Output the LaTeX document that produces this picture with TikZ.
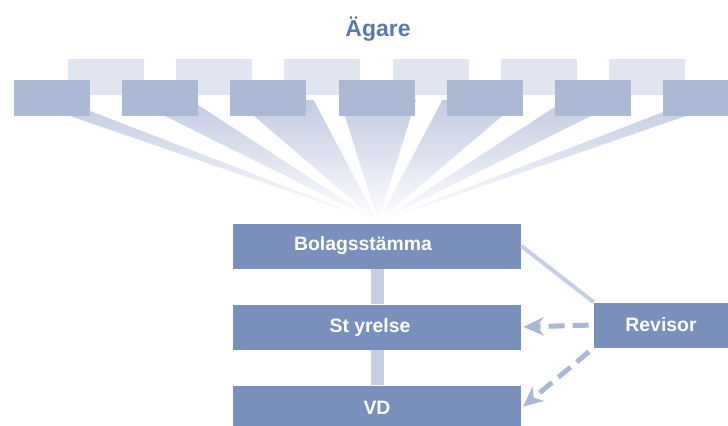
\documentclass[tikz,border=0pt]{standalone}
\usepackage{fontspec}
\setmainfont{Liberation Sans}
\usetikzlibrary{arrows.meta, positioning, calc}

\definecolor{boxblue}{HTML}{7890BB}
\definecolor{ownerblue}{HTML}{ABB9D5}
\definecolor{ownerback}{HTML}{E0E5F0}
\definecolor{linkblue}{HTML}{C5CEE3}
\definecolor{titleblue}{HTML}{5A78B0}
\definecolor{rayblue}{HTML}{C3CBE1}
\definecolor{auditblue}{HTML}{AAB8D6}

\tikzset{
  orgbox/.style={fill=boxblue, text=white, font=\bfseries\fontsize{9.7}{12}\selectfont,
    inner sep=0pt, minimum height=22.5pt},
  owner/.style={fill=ownerblue, minimum width=38pt, minimum height=18pt, inner sep=0pt},
  ownerbg/.style={fill=ownerback, minimum width=38pt, minimum height=18pt, inner sep=0pt},
  link/.style={draw=linkblue, line width=6.5pt},
  audit/.style={draw=auditblue, line width=2.5pt, dash pattern=on 8pt off 4pt,
    -{Stealth[length=10pt, width=9pt, inset=3pt]}},
}

\begin{document}
\begin{tikzpicture}[x=0.5pt, y=-0.5pt]
\useasboundingbox (0,0) rectangle (728,425);
\clip (0,0) rectangle (728,425);
% Rays from the owners
\coordinate (apex) at (378,222);
\foreach \a/\b in {70/103,165/215,254/322,345/411,434/502,541/591,653/686}
    \shade[top color=rayblue, bottom color=white]
        (apex) -- ($(apex)!1.15!(\a,116)$) -- ($(apex)!1.15!(\b,116)$) -- cycle;
% Owners, back row
\foreach \i in {0,...,5}
    \node[ownerbg] (bg\i) at ({106+108.2*\i},77) {};
% Owners, front row
\foreach \i in {0,...,6}
    \node[owner] (own\i) at ({52+108.2*\i},98) {};
% Title
\node[anchor=base, text=titleblue, font=\bfseries\fontsize{11.5}{14}\selectfont] (title) at (378,36) {Ägare};
% Organisation
\node[orgbox, minimum width=144pt] (stamma) at (377,246) {\hspace*{-14pt}Bolagsstämma};
\node[orgbox, minimum width=144pt] (styrelse) at (377,327) {\hspace*{-7pt}St yrelse};
\node[orgbox, minimum width=144pt] (vd) at (377,408) {VD};
\node[orgbox, minimum width=67pt] (revisor) at (661,325) {Revisor};
% Connections
\draw[link] (stamma) -- (styrelse);
\draw[link] (styrelse) -- (vd);
\draw[draw=linkblue, line width=2pt] (stamma.east) -- (revisor.north west);
\draw[audit, shorten <=2.5pt, shorten >=1pt] (revisor.west) -- (styrelse.east);
\draw[audit, shorten <=3pt, shorten >=1pt] (revisor.south west) -- (vd.east);
\end{tikzpicture}
\end{document}
